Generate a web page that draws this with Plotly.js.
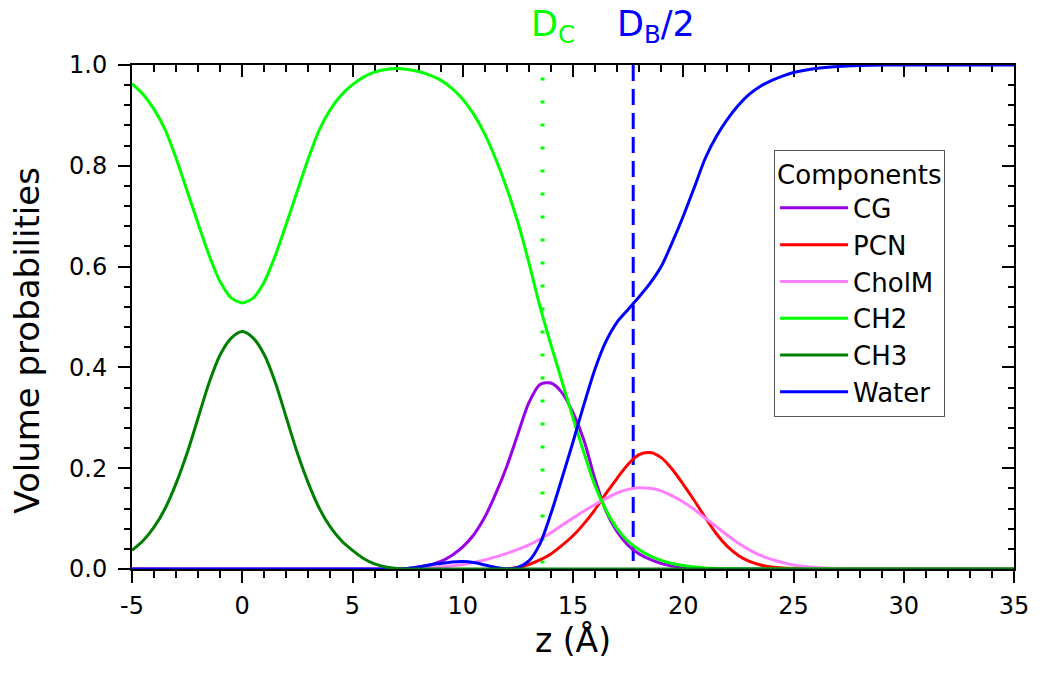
<!DOCTYPE html>
<html>
<head>
<meta charset="utf-8">
<script src="https://cdn.plot.ly/plotly-3.0.1.min.js"></script>
<style>html,body{margin:0;padding:0;background:#fff;}#chart{width:1050px;height:677px;}</style>
</head>
<body>
<div id="chart"></div>
<script>
// ---- data ----
const cgZ   = [-5, 6.5, 7, 7.5, 8, 8.5, 9, 9.5, 10, 10.5, 11, 11.5, 12, 12.5, 13, 13.5, 14, 14.5, 15, 15.5, 16, 16.5, 17, 17.5, 18, 18.5, 19, 19.5, 20, 20.5, 21, 21.5, 35];
const cgV   = [0, 0, 0.0005, 0.001, 0.004, 0.008, 0.015, 0.027, 0.044, 0.068, 0.103, 0.15, 0.204, 0.268, 0.33, 0.366, 0.369, 0.35, 0.31, 0.255, 0.178, 0.115, 0.074, 0.047, 0.03, 0.019, 0.011, 0.006, 0.003, 0.001, 0.0005, 0, 0];

const pcnZ  = [-5, 12, 12.5, 13, 13.5, 14, 14.5, 15, 15.5, 16, 16.5, 17, 17.5, 18, 18.5, 19, 19.5, 20, 20.5, 21, 21.5, 22, 22.5, 23, 23.5, 24, 24.5, 25, 26, 35];
const pcnV  = [0, 0, 0.003, 0.009, 0.018, 0.03, 0.047, 0.066, 0.09, 0.118, 0.15, 0.18, 0.208, 0.227, 0.231, 0.221, 0.198, 0.168, 0.136, 0.102, 0.07, 0.045, 0.027, 0.015, 0.008, 0.004, 0.002, 0.001, 0, 0];

const cholZ = [-5, 7.5, 8, 8.5, 9, 9.5, 10, 10.5, 11, 11.5, 12, 12.5, 13, 13.5, 14, 14.5, 15, 15.5, 16, 16.5, 17, 17.5, 18, 18.5, 19, 19.5, 20, 20.5, 21, 21.5, 22, 22.5, 23, 23.5, 24, 24.5, 25, 26, 27, 28, 35];
const cholV = [0, 0, 0.001, 0.002, 0.004, 0.006, 0.009, 0.013, 0.018, 0.024, 0.031, 0.039, 0.048, 0.059, 0.072, 0.087, 0.101, 0.115, 0.128, 0.14, 0.151, 0.158, 0.161, 0.16, 0.155, 0.145, 0.133, 0.118, 0.101, 0.084, 0.067, 0.051, 0.038, 0.027, 0.019, 0.013, 0.008, 0.003, 0.001, 0, 0];

const ch2Z  = [-5, -4.5, -4, -3.5, -3, -2.5, -2, -1.5, -1, -0.5, 0, 0.5, 1, 1.5, 2, 2.5, 3, 3.5, 4, 4.5, 5, 5.5, 6, 6.5, 7, 7.5, 8, 8.5, 9, 9.5, 10, 10.5, 11, 11.5, 12, 12.5, 13, 13.5, 14, 14.5, 15, 15.5, 16, 16.5, 17, 17.5, 18, 18.5, 19, 19.5, 20, 20.5, 21, 21.5, 22, 23, 35];
const ch2V  = [0.963, 0.942, 0.912, 0.872, 0.815, 0.75, 0.685, 0.622, 0.57, 0.538, 0.528, 0.538, 0.57, 0.622, 0.685, 0.75, 0.815, 0.872, 0.912, 0.941, 0.961, 0.976, 0.986, 0.991, 0.993, 0.991, 0.987, 0.98, 0.97, 0.954, 0.932, 0.902, 0.863, 0.813, 0.755, 0.688, 0.608, 0.521, 0.445, 0.372, 0.3, 0.23, 0.165, 0.117, 0.08, 0.055, 0.038, 0.026, 0.017, 0.011, 0.007, 0.004, 0.002, 0.001, 0.0005, 0, 0];

const ch3Z  = [-5, -4.5, -4, -3.5, -3, -2.5, -2, -1.5, -1, -0.5, 0, 0.5, 1, 1.5, 2, 2.5, 3, 3.5, 4, 4.5, 5, 5.5, 6, 6.5, 7, 7.5, 35];
const ch3V  = [0.037, 0.056, 0.083, 0.12, 0.17, 0.23, 0.3, 0.37, 0.425, 0.458, 0.471, 0.458, 0.425, 0.37, 0.3, 0.23, 0.17, 0.12, 0.083, 0.056, 0.037, 0.021, 0.01, 0.004, 0.001, 0, 0];

const waterZ = [-5, 7, 7.5, 8, 8.5, 9, 9.5, 10, 10.5, 11, 11.5, 12, 12.5, 13, 13.5, 14, 14.5, 15, 15.5, 16, 16.5, 17, 17.5, 18, 18.5, 19, 19.5, 20, 20.5, 21, 21.5, 22, 22.5, 23, 23.5, 24, 24.5, 25, 26, 27, 28, 29, 35];
const waterV = [0, 0, 0.001, 0.004, 0.008, 0.011, 0.014, 0.015, 0.013, 0.008, 0.003, 0.0005, 0.003, 0.016, 0.05, 0.11, 0.18, 0.252, 0.327, 0.397, 0.452, 0.49, 0.515, 0.54, 0.567, 0.6, 0.648, 0.7, 0.757, 0.815, 0.858, 0.892, 0.92, 0.942, 0.958, 0.969, 0.978, 0.985, 0.993, 0.997, 0.999, 1, 1];

const dC  = 13.62;   // D_C position
const dB2 = 17.73;   // D_B/2 position
const dCTop = 0.975;
const dBTop = 1.0;

const seriesNames  = ['CG', 'PCN', 'CholM', 'CH2', 'CH3', 'Water'];
const seriesColors = ['#9a00e6', '#ff0000', '#ff80ff', '#00ff00', '#008000', '#0000ff'];
const xTicks = [-5, 0, 5, 10, 15, 20, 25, 30, 35];
const yTicks = [0, 0.2, 0.4, 0.6, 0.8, 1.0];

// ---- traces ----
const FONT = 'DejaVu Sans';
function curve(name, z, v, color, rank) {
  return {x: z, y: v, name: name, type: 'scatter', mode: 'lines',
          line: {color: color, width: 3, shape: 'spline', smoothing: 0.8},
          legendrank: rank, legendgroup: name, hoverinfo: 'skip'};
}
const data = [
  {x: [dC, dC], y: [dCTop, 0], mode: 'lines', showlegend: false, hoverinfo: 'skip',
   line: {color: '#00ff00', width: 4, dash: '3px,20px'}},
  {x: [dB2, dB2], y: [dBTop, 0], mode: 'lines', showlegend: false, hoverinfo: 'skip',
   line: {color: '#0000ff', width: 3, dash: '16px,8px'}},
  curve(seriesNames[0], cgZ, cgV, seriesColors[0], 1),
  curve(seriesNames[1], pcnZ, pcnV, seriesColors[1], 2),
  curve(seriesNames[2], cholZ, cholV, seriesColors[2], 3),
  curve(seriesNames[3], ch2Z, ch2V, seriesColors[3], 4),
  curve(seriesNames[5], waterZ, waterV, seriesColors[5], 6),
  curve(seriesNames[4], ch3Z, ch3V, seriesColors[4], 5),
  // empty traces so the mirrored top / right axes get drawn
  {x: [], y: [], xaxis: 'x2', yaxis: 'y', type: 'scatter', mode: 'lines', showlegend: false, hoverinfo: 'skip'},
  {x: [], y: [], xaxis: 'x', yaxis: 'y2', type: 'scatter', mode: 'lines', showlegend: false, hoverinfo: 'skip'}
];

const axBase = {
  showgrid: false, zeroline: false, showline: true, linecolor: '#000', linewidth: 2,
  layer: 'below traces', tickcolor: '#000', tickwidth: 2, ticklen: 12
};

const layout = {
  width: 1050, height: 677,
  margin: {l: 132, r: 36, t: 65, b: 108, pad: 0},
  paper_bgcolor: '#fff', plot_bgcolor: '#fff',
  font: {family: FONT, color: '#000', size: 24},
  showlegend: true,
  legend: {
    x: 0.728, y: 0.832, xanchor: 'left', yanchor: 'top',
    bgcolor: '#fff', bordercolor: '#555', borderwidth: 1,
    font: {family: FONT, size: 26, color: '#000'},
    title: {text: 'Components', font: {family: FONT, size: 26, color: '#000'}},
    traceorder: 'grouped', tracegroupgap: 0, itemwidth: 68
  },
  xaxis: Object.assign({}, axBase, {
    range: [-5, 35], tickmode: 'array', tickvals: xTicks, ticktext: xTicks.map(String),
    ticks: 'outside', ticklabelstandoff: 2,
    minor: {dtick: 1, tick0: 0, ticks: 'outside', ticklen: 7, tickwidth: 2, tickcolor: '#000'},
    tickfont: {family: FONT, size: 24, color: '#000'},
    title: {text: 'z (Å)', font: {family: FONT, size: 33, color: '#000'}, standoff: 10}
  }),
  yaxis: Object.assign({}, axBase, {
    range: [0, 1.0], tickmode: 'array', tickvals: yTicks, ticktext: yTicks.map(v => v.toFixed(1)),
    ticks: 'outside', ticklabelstandoff: 6,
    minor: {dtick: 0.04, tick0: 0, ticks: 'outside', ticklen: 6, tickwidth: 2, tickcolor: '#000'},
    tickfont: {family: FONT, size: 24, color: '#000'}
  }),
  xaxis2: Object.assign({}, axBase, {
    overlaying: 'x', side: 'top', anchor: 'y', range: [-5, 35],
    tickmode: 'array', tickvals: xTicks, ticks: 'inside', showticklabels: false,
    minor: {dtick: 1, tick0: 0, ticks: 'inside', ticklen: 7, tickwidth: 2, tickcolor: '#000'}
  }),
  yaxis2: Object.assign({}, axBase, {
    overlaying: 'y', side: 'right', anchor: 'x', range: [0, 1.0],
    tickmode: 'array', tickvals: yTicks, ticks: 'inside', showticklabels: false,
    minor: {dtick: 0.04, tick0: 0, ticks: 'inside', ticklen: 6, tickwidth: 2, tickcolor: '#000'}
  }),
  annotations: [
    {x: dC, xref: 'x', y: 1, yref: 'paper', xanchor: 'center', yanchor: 'bottom', xshift: 10, yshift: 14,
     text: 'D<sub>C</sub>', showarrow: false, font: {family: FONT, size: 35, color: '#00ff00'}},
    {x: dB2, xref: 'x', y: 1, yref: 'paper', xanchor: 'center', yanchor: 'bottom', xshift: 23, yshift: 14,
     text: 'D<sub>B</sub>/2', showarrow: false, font: {family: FONT, size: 35, color: '#0000ff'}},
    {x: -0.119, xref: 'paper', y: 0.453, yref: 'paper', xanchor: 'center', yanchor: 'middle',
     text: 'Volume probabilities', textangle: -90, showarrow: false,
     font: {family: FONT, size: 34, color: '#000'}}
  ]
};

Plotly.newPlot('chart', data, layout, {displayModeBar: false, staticPlot: true});
</script>
</body>
</html>
